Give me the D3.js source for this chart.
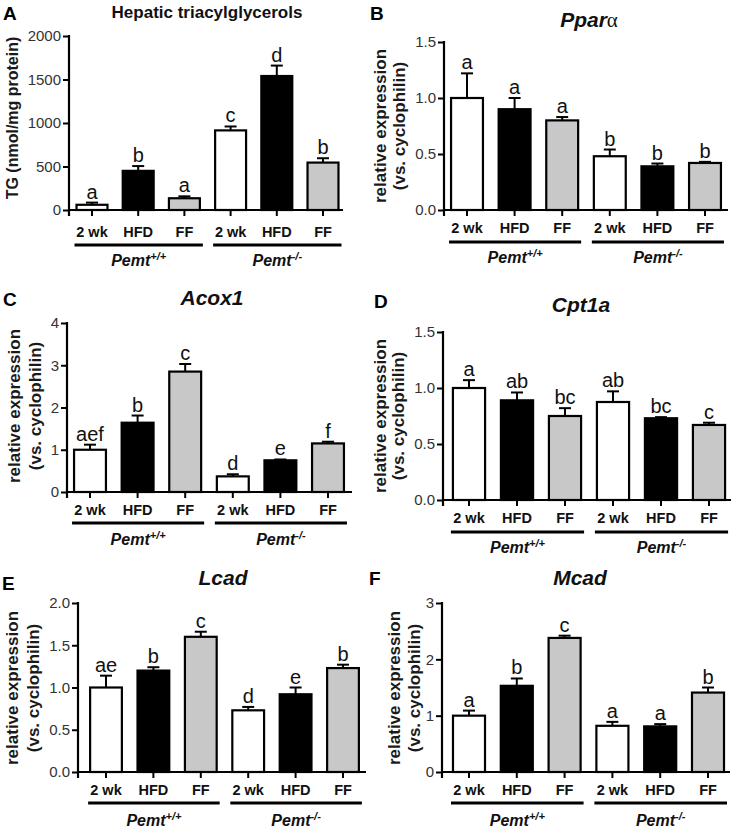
<!DOCTYPE html>
<html><head><meta charset="utf-8">
<script src="https://cdn.jsdelivr.net/npm/d3@7"></script>
<style>
body{margin:0;background:#fff}
svg{display:block}
text{font-family:"Liberation Sans",Arial,Helvetica,sans-serif}
</style>
</head><body>
<svg id="fig" width="734" height="828"></svg>
<script>
// ---------- data ----------
const conditions = ["2 wk","HFD","FF","2 wk","HFD","FF"];
const genotypeBase = ["Pemt","Pemt"];
const genotypeSup = ["+/+","-/-"];

const tgMean = [60, 450, 135, 915, 1540, 545];
const tgErr = [25, 55, 22, 45, 120, 50];
const tgLetters = ["a","b","a","c","d","b"];
const tgTicks = [0, 500, 1000, 1500, 2000];

const pparMean = [1.00, 0.90, 0.80, 0.48, 0.39, 0.42];
const pparErr = [0.22, 0.10, 0.03, 0.06, 0.025, 0.01];
const pparLetters = ["a","a","a","b","b","b"];
const pparTicks = [0, 0.5, 1.0, 1.5];

const acoxMean = [1.00, 1.64, 2.85, 0.37, 0.75, 1.15];
const acoxErr = [0.12, 0.17, 0.18, 0.05, 0.02, 0.04];
const acoxLetters = ["aef","b","c","d","e","f"];
const acoxTicks = [0, 1, 2, 3, 4];

const cptMean = [1.00, 0.89, 0.75, 0.875, 0.73, 0.67];
const cptErr = [0.07, 0.07, 0.07, 0.095, 0.01, 0.02];
const cptLetters = ["a","ab","bc","ab","bc","c"];
const cptTicks = [0, 0.5, 1.0, 1.5];

const lcadMean = [1.00, 1.20, 1.60, 0.73, 0.92, 1.23];
const lcadErr = [0.14, 0.04, 0.06, 0.04, 0.08, 0.04];
const lcadLetters = ["ae","b","c","d","e","b"];
const lcadTicks = [0, 0.5, 1.0, 1.5, 2.0];

const mcadMean = [1.00, 1.53, 2.38, 0.82, 0.81, 1.41];
const mcadErr = [0.09, 0.13, 0.04, 0.07, 0.04, 0.09];
const mcadLetters = ["a","b","c","a","a","b"];
const mcadTicks = [0, 1, 2, 3];

// ---------- styles / layout ----------
const fills = ["#ffffff","#000000","#c8c8c8"];
const relLabel = ["relative expression","(vs. cyclophilin)"];

const panels = [
  {id:"A", title:["Hepatic triacylglycerols"], gene:false, mean:tgMean, err:tgErr, letters:tgLetters, ticks:tgTicks, fmt:d3.format("d"), ylabel:["TG (nmol/mg protein)"],
   L:{ax:69, end:343, c1:92, step:46.2, y0:210, yTop:36, ylx:[12], ylc:118, tx:207, ty:18, px:3, py:20, xl:237, gl:245, gy:266}},
  {id:"B", title:["Ppar","α"], gene:true, mean:pparMean, err:pparErr, letters:pparLetters, ticks:pparTicks, fmt:d3.format(".1f"), ylabel:relLabel,
   L:{ax:444, end:728, c1:467, step:47.6, y0:210, yTop:42, ylx:[380,399], ylc:126, tx:589, ty:27, px:370, py:20, xl:233, gl:242, gy:263}},
  {id:"C", title:["Acox1"], gene:true, mean:acoxMean, err:acoxErr, letters:acoxLetters, ticks:acoxTicks, fmt:d3.format("d"), ylabel:relLabel,
   L:{ax:67, end:352, c1:90, step:47.6, y0:492, yTop:323, ylx:[14,35], ylc:406, tx:212, ty:305, px:3, py:306, xl:515, gl:523, gy:545}},
  {id:"D", title:["Cpt1a"], gene:true, mean:cptMean, err:cptErr, letters:cptLetters, ticks:cptTicks, fmt:d3.format(".1f"), ylabel:relLabel,
   L:{ax:443, end:731, c1:469, step:48, y0:500, yTop:332, ylx:[380,398], ylc:416, tx:581, ty:312, px:374, py:308, xl:523, gl:532, gy:553}},
  {id:"E", title:["Lcad"], gene:true, mean:lcadMean, err:lcadErr, letters:lcadLetters, ticks:lcadTicks, fmt:d3.format(".1f"), ylabel:relLabel,
   L:{ax:78, end:366, c1:106, step:47.4, y0:772, yTop:603, ylx:[12,33], ylc:688, tx:223, ty:585, px:2, py:590, xl:795, gl:803, gy:826}},
  {id:"F", title:["Mcad"], gene:true, mean:mcadMean, err:mcadErr, letters:mcadLetters, ticks:mcadTicks, fmt:d3.format("d"), ylabel:relLabel,
   L:{ax:442, end:730, c1:469, step:47.8, y0:772, yTop:603, ylx:[394,414], ylc:688, tx:580, ty:585, px:369, py:585, xl:795, gl:803, gy:826}}
];

const svg = d3.select("#fig");

function draw(p){
  const L = p.L;
  const g = svg.append("g").attr("class","panel-"+p.id);
  const x = d3.scaleBand().domain(d3.range(p.mean.length))
    .range([L.c1 - L.step/2, L.c1 + (p.mean.length - 0.5)*L.step])
    .paddingInner(0.33).paddingOuter(0.165);
  const bw = x.bandwidth();
  const cx = i => x(i) + bw/2;
  const y = d3.scaleLinear().domain([0, d3.max(p.ticks)]).range([L.y0, L.yTop]);

  // bars
  g.selectAll("rect.bar").data(p.mean).join("rect").attr("class","bar")
    .attr("x",(d,i)=>x(i)).attr("y",d=>y(d))
    .attr("width",bw).attr("height",d=>L.y0-y(d))
    .attr("fill",(d,i)=>fills[i%3]).attr("stroke","#000").attr("stroke-width",2.2);

  // error bars (upper)
  g.selectAll("line.err").data(p.mean).join("line").attr("class","err")
    .attr("x1",(d,i)=>cx(i)).attr("x2",(d,i)=>cx(i))
    .attr("y1",d=>y(d)).attr("y2",(d,i)=>y(d+p.err[i]))
    .attr("stroke","#000").attr("stroke-width",2);
  g.selectAll("line.cap").data(p.mean).join("line").attr("class","cap")
    .attr("x1",(d,i)=>cx(i)-6).attr("x2",(d,i)=>cx(i)+6)
    .attr("y1",(d,i)=>y(d+p.err[i])).attr("y2",(d,i)=>y(d+p.err[i]))
    .attr("stroke","#000").attr("stroke-width",2);

  // significance letters
  g.selectAll("text.sig").data(p.letters).join("text").attr("class","sig")
    .attr("x",(d,i)=>cx(i)).attr("y",(d,i)=>y(p.mean[i]+p.err[i])-4)
    .attr("text-anchor","middle").attr("font-size",20).attr("fill","#111").text(d=>d);

  // y axis
  const yg = g.append("g").attr("transform",`translate(${L.ax},0)`)
    .call(d3.axisLeft(y).tickValues(p.ticks).tickSize(6).tickPadding(2).tickFormat(p.fmt));
  yg.select(".domain").remove();
  yg.attr("font-family",null).attr("font-size",null);
  yg.selectAll(".tick line").attr("stroke","#000").attr("stroke-width",2);
  yg.selectAll(".tick text").attr("font-size",15).attr("fill","#333")
    .style("font-family",'"Liberation Sans",Arial,sans-serif');
  g.append("line").attr("x1",L.ax).attr("x2",L.ax).attr("y1",L.yTop-1).attr("y2",L.y0+6)
    .attr("stroke","#000").attr("stroke-width",2.2);

  // x axis
  g.append("line").attr("x1",L.ax).attr("x2",L.end).attr("y1",L.y0).attr("y2",L.y0)
    .attr("stroke","#000").attr("stroke-width",2.2);
  const xg = g.append("g").attr("transform",`translate(0,${L.y0})`)
    .call(d3.axisBottom(x).tickSize(6).tickFormat(""));
  xg.select(".domain").remove();
  xg.selectAll(".tick line").attr("stroke","#000").attr("stroke-width",2);

  // condition labels
  g.selectAll("text.cond").data(conditions).join("text").attr("class","cond")
    .attr("x",(d,i)=>cx(i)).attr("y",L.xl).attr("text-anchor","middle")
    .attr("font-size",14.5).attr("font-weight","bold").attr("fill","#111").text(d=>d);

  // genotype lines + labels
  [0,1].forEach(k=>{
    const x1 = x(k*3) - 2, x2 = x(k*3+2) + bw + 3;
    g.append("line").attr("x1",x1).attr("x2",x2).attr("y1",L.gl).attr("y2",L.gl)
      .attr("stroke","#000").attr("stroke-width",3);
    const t = g.append("text").attr("x",(x1+x2)/2).attr("y",L.gy).attr("text-anchor","middle")
      .attr("font-size",16).attr("font-weight","bold").attr("font-style","italic").attr("fill","#111");
    t.append("tspan").text(genotypeBase[k]);
    t.append("tspan").attr("font-size",11).attr("dy",-6).text(genotypeSup[k]);
  });

  // y label
  p.ylabel.forEach((s,j)=>{
    g.append("text").attr("transform",`translate(${L.ylx[j]},${L.ylc}) rotate(-90)`)
      .attr("text-anchor","middle").attr("dy","0.36em")
      .attr("font-size",p.gene?17:16).attr("font-weight","bold").attr("fill","#1a1a1a").text(s);
  });

  // title
  const tt = g.append("text").attr("x",L.tx).attr("y",L.ty).attr("text-anchor","middle")
    .attr("font-weight","bold").attr("fill","#111");
  if(p.gene){
    tt.attr("font-size",21).attr("font-style","italic");
    tt.append("tspan").text(p.title[0]);
    if(p.title[1]) tt.append("tspan").attr("font-family",'"Liberation Serif",serif').attr("font-weight","normal").attr("font-style","normal").text(p.title[1]);
  } else {
    tt.attr("font-size",17).text(p.title[0]);
  }

  // panel letter
  g.append("text").attr("x",L.px).attr("y",L.py).attr("font-size",19).attr("font-weight","bold")
    .attr("fill","#000").text(p.id);
}

panels.forEach(draw);
</script>
</body></html>
